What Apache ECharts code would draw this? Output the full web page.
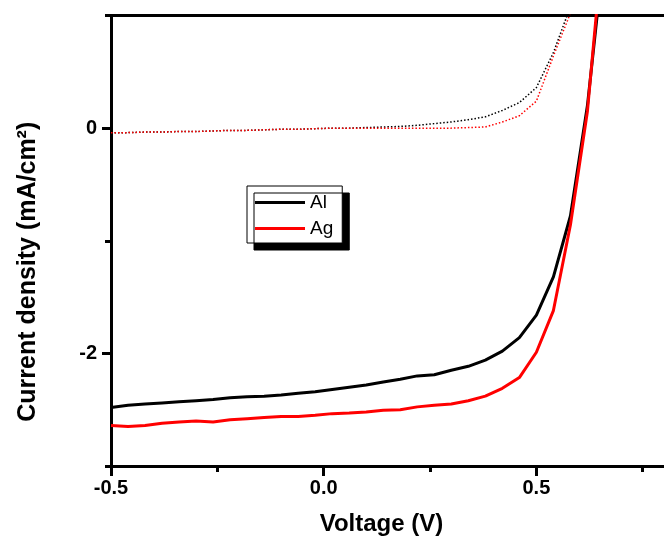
<!DOCTYPE html>
<html>
<head>
<meta charset="utf-8">
<script src="https://cdn.jsdelivr.net/npm/echarts@6/dist/echarts.min.js"></script>
<style>html,body{margin:0;padding:0;background:#fff}#c{width:664px;height:538px}</style>
</head>
<body>
<div id="c"></div>
<script>
var voltage = [-0.50,-0.46,-0.42,-0.38,-0.34,-0.30,-0.26,-0.22,-0.18,-0.14,-0.10,-0.06,-0.02,0.02,0.06,0.10,0.14,0.18,0.22,0.26,0.30,0.34,0.38,0.42,0.46,0.50,0.54,0.58,0.62,0.66];
var alLight = [-2.48,-2.46,-2.45,-2.44,-2.43,-2.42,-2.41,-2.395,-2.385,-2.38,-2.37,-2.355,-2.34,-2.32,-2.30,-2.28,-2.255,-2.23,-2.20,-2.19,-2.15,-2.115,-2.06,-1.98,-1.86,-1.66,-1.32,-0.78,0.20,1.6];
var agLight = [-2.64,-2.65,-2.64,-2.62,-2.61,-2.60,-2.61,-2.59,-2.58,-2.57,-2.56,-2.56,-2.55,-2.535,-2.53,-2.52,-2.505,-2.50,-2.475,-2.46,-2.45,-2.42,-2.38,-2.31,-2.215,-1.99,-1.62,-0.86,0.15,1.8];
var alDark = [-0.04,-0.04,-0.035,-0.035,-0.03,-0.03,-0.025,-0.02,-0.02,-0.015,-0.01,-0.01,-0.005,0,0,0.005,0.01,0.015,0.025,0.04,0.055,0.075,0.10,0.157,0.227,0.36,0.67,1.08,1.9,3.0];
var agDark = [-0.04,-0.04,-0.035,-0.035,-0.03,-0.03,-0.025,-0.02,-0.02,-0.015,-0.01,-0.01,-0.005,0,0,0,0,0,0,0,0,0.005,0.01,0.054,0.11,0.24,0.64,1.02,1.9,3.0];
var xTickValues = [-0.5, 0, 0.5];
var xTickLabels = ['-0.5', '0.0', '0.5'];
var xMinorTicks = [-0.25, 0.25, 0.75];
var yTickValues = [0, -2];
var yTickLabels = ['0', '-2'];
var yMinorTicks = [-3, -1, 1];

function pairs(ys){ return voltage.map(function(v,i){ return [v, ys[i]]; }); }
function fmt(vals, labels){ return function(v){ for (var i=0;i<vals.length;i++){ if (Math.abs(vals[i]-v)<1e-9) return labels[i]; } return ''; }; }

var FONT = "'Liberation Sans', Arial, sans-serif";
var chart = echarts.init(document.getElementById('c'), null, {renderer:'canvas'});
chart.setOption({
  animation: false,
  backgroundColor: '#fff',
  grid: { left: 111, top: 15.5, right: 0, height: 450.5, show: false, containLabel: false, outerBoundsMode: 'none' },
  legend: {
    data: ['Al', 'Ag'],
    orient: 'vertical',
    left: 247, top: 186,
    padding: [7, 9, 5, 8],
    itemGap: 7,
    icon: 'rect',
    itemWidth: 50, itemHeight: 3,
    backgroundColor: '#fff',
    borderColor: '#000', borderWidth: 1,
    shadowColor: '#000', shadowBlur: 0, shadowOffsetX: 7, shadowOffsetY: 7,
    textStyle: { fontFamily: FONT, fontSize: 19, color: '#000', padding: [0,0,0,0] }
  },
  xAxis: [{
    type: 'value', min: -0.5, max: 0.8, position: 'bottom',
    name: 'Voltage (V)', nameLocation: 'middle', nameGap: 46,
    nameTextStyle: { fontFamily: FONT, fontSize: 24, fontWeight: 'bold', color: '#000', padding: [0, 12, 0, 0] },
    axisLine: { show: true, onZero: false, lineStyle: { color: '#000', width: 3 } },
    axisTick: { show: true, length: 10, lineStyle: { color: '#000', width: 3 }, customValues: xTickValues },
    axisLabel: { show: true, margin: 12, fontFamily: FONT, fontSize: 20, fontWeight: 'bold', color: '#000', customValues: xTickValues, formatter: fmt(xTickValues, xTickLabels) },
    splitLine: { show: false }
  }, {
    type: 'value', min: -0.5, max: 0.8, position: 'bottom',
    axisLine: { show: false, onZero: false },
    axisTick: { show: true, length: 6, lineStyle: { color: '#000', width: 3 }, customValues: xMinorTicks },
    axisLabel: { show: false },
    splitLine: { show: false }
  }, {
    type: 'value', min: -0.5, max: 0.8, position: 'top',
    axisLine: { show: true, onZero: false, lineStyle: { color: '#000', width: 3 } },
    axisTick: { show: false },
    axisLabel: { show: false },
    splitLine: { show: false }
  }],
  yAxis: [{
    type: 'value', min: -3, max: 1, position: 'left',
    name: 'Current density (mA/cm²)', nameLocation: 'middle', nameGap: 70, nameRotate: 90,
    nameTextStyle: { fontFamily: FONT, fontSize: 25, fontWeight: 'bold', color: '#000', padding: [0, 62, 0, 0] },
    axisLine: { show: true, onZero: false, lineStyle: { color: '#000', width: 3 } },
    axisTick: { show: true, length: 9, lineStyle: { color: '#000', width: 3 }, customValues: yTickValues },
    axisLabel: { show: true, margin: 14, fontFamily: FONT, fontSize: 20, fontWeight: 'bold', color: '#000', customValues: yTickValues, formatter: fmt(yTickValues, yTickLabels) },
    splitLine: { show: false }
  }, {
    type: 'value', min: -3, max: 1, position: 'left',
    axisLine: { show: false, onZero: false },
    axisTick: { show: true, length: 6, lineStyle: { color: '#000', width: 3 }, customValues: yMinorTicks },
    axisLabel: { show: false },
    splitLine: { show: false }
  }],
  series: [
    { name: 'Al dark', type: 'line', xAxisIndex: 0, yAxisIndex: 0, data: pairs(alDark), symbol: 'none', clip: true,
      lineStyle: { color: '#000', width: 1.5, type: [1.5, 2] }, itemStyle: { color: '#000' } },
    { name: 'Ag dark', type: 'line', xAxisIndex: 0, yAxisIndex: 0, data: pairs(agDark), symbol: 'none', clip: true,
      lineStyle: { color: '#f00', width: 1.5, type: [1.5, 2] }, itemStyle: { color: '#f00' } },
    { name: 'Al', type: 'line', xAxisIndex: 0, yAxisIndex: 0, data: pairs(alLight), symbol: 'none', clip: true,
      lineStyle: { color: '#000', width: 3 }, itemStyle: { color: '#000' } },
    { name: 'Ag', type: 'line', xAxisIndex: 0, yAxisIndex: 0, data: pairs(agLight), symbol: 'none', clip: true,
      lineStyle: { color: '#f00', width: 3 }, itemStyle: { color: '#f00' } }
  ]
});
</script>
</body>
</html>
